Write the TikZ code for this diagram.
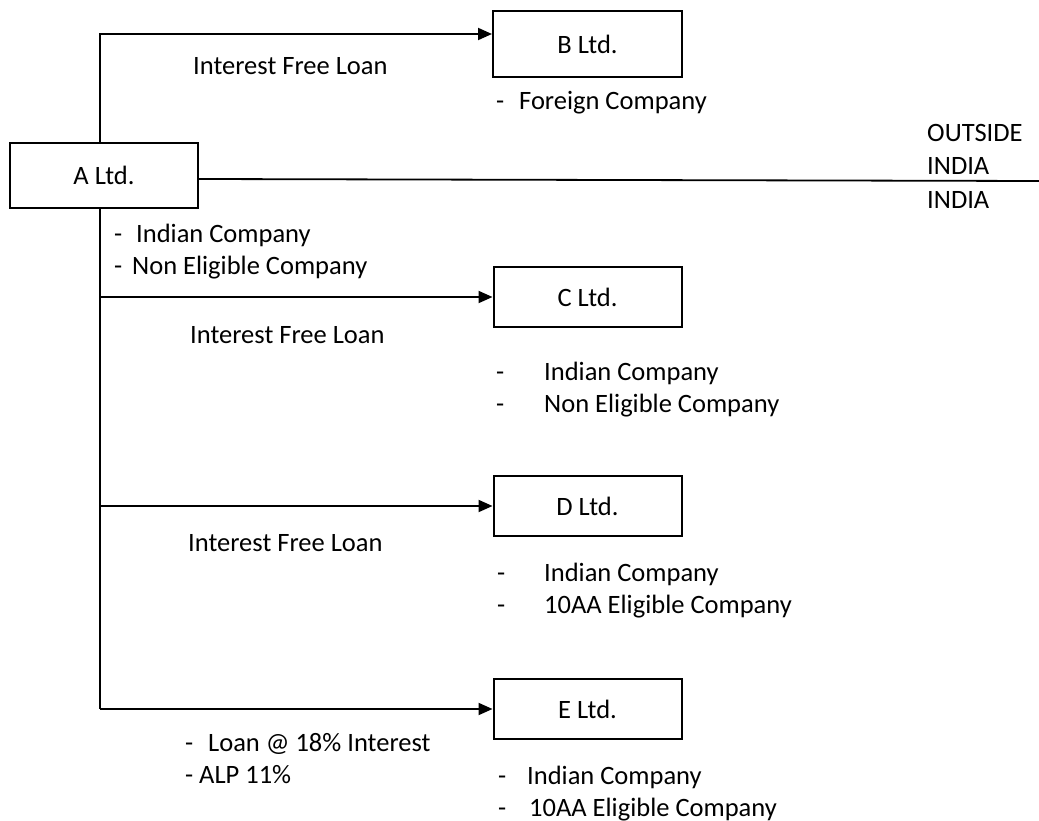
\documentclass[tikz,border=0pt]{standalone}
\usepackage{fontspec}
\setmainfont{Carlito}
\usetikzlibrary{arrows.meta}
\begin{document}
\begin{tikzpicture}[x=1pt,y=-1pt,
  every node/.style={font=\fontsize{26.5}{32}\selectfont},
  company/.style={draw,line width=2pt,minimum width=188pt,minimum height=60pt,inner sep=0pt},
  txt/.style={anchor=base west,inner sep=0pt},
  link/.style={line width=2pt},
  arr/.style={link,-{Triangle[length=14pt,width=12pt]}}]
\useasboundingbox (0,0) rectangle (1039,821);

% companies
\node[company,minimum height=65pt] (A) at (104,175.5) {A Ltd.};
\node[company,minimum width=189pt,minimum height=66pt] (B) at (587.5,44) {B Ltd.};
\node[company] (C) at (587.5,297) {C Ltd.};
\node[company] (D) at (587.5,506) {D Ltd.};
\node[company] (E) at (587.5,709) {E Ltd.};

% trunk corners
\coordinate (top) at (100,34);
\coordinate (bot) at (100,709);
\coordinate (edge) at (1039,181);

% loans
\draw[arr] (A.north -| top) -- (top) -- (top -| B.west);
\draw[link] (A.south -| bot) -- (bot);
\draw[arr] (bot |- C.west) -- (C.west);
\draw[arr] (bot |- D.west) -- (D.west);
\draw[arr] (bot) -- (E.west);

% border line
\draw[line width=1.8pt] (A.east |- 0,179) -- (edge);
\node[txt] (out1) at (927,142) {OUTSIDE};
\node[txt] (out2) at (927,175) {INDIA};
\node[txt] (in1) at (927,209) {INDIA};

% labels and descriptions
\node[txt] (lb) at (193,75) {Interest Free Loan};
\node[txt] (db) at (496,110) {\makebox[23pt][l]{-}Foreign Company};

\node[txt] (da1) at (114,243) {\makebox[22pt][l]{-}Indian Company};
\node[txt] (da2) at (114,275) {\makebox[18pt][l]{-}Non Eligible Company};

\node[txt] (lc) at (190,343) {Interest Free Loan};
\node[txt] (dc1) at (496,380) {\makebox[48pt][l]{-}Indian Company};
\node[txt] (dc2) at (496,412) {\makebox[48pt][l]{-}Non Eligible Company};

\node[txt] (ld) at (188,551) {Interest Free Loan};
\node[txt] (dd1) at (497,581) {\makebox[47pt][l]{-}Indian Company};
\node[txt] (dd2) at (497,613) {\makebox[47pt][l]{-}10AA Eligible Company};

\node[txt] (le1) at (185,751) {\makebox[23pt][l]{-}Loan @ 18\% Interest};
\node[txt] (le2) at (185,783) {\makebox[14pt][l]{-}ALP 11\%};
\node[txt] (de1) at (498,784) {\makebox[29pt][l]{-}Indian Company};
\node[txt] (de2) at (498,816) {\makebox[31pt][l]{-}10AA Eligible Company};
\end{tikzpicture}
\end{document}
